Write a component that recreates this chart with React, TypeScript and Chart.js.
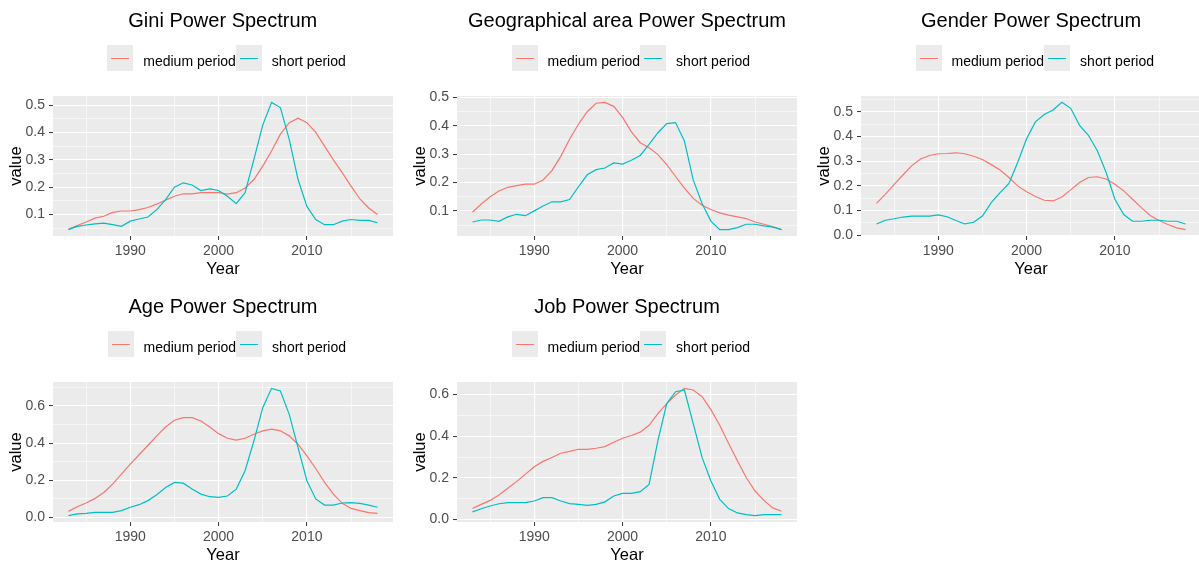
import React, { useEffect, useRef } from "react";
import { Chart, registerables } from "chart.js";

Chart.register(...registerables);

// ---------- data ----------
const years = [
  1983, 1984, 1985, 1986, 1987, 1988, 1989, 1990, 1991, 1992, 1993, 1994,
  1995, 1996, 1997, 1998, 1999, 2000, 2001, 2002, 2003, 2004, 2005, 2006,
  2007, 2008, 2009, 2010, 2011, 2012, 2013, 2014, 2015, 2016, 2017, 2018,
];

const seriesLabels = ["medium period", "short period"];

const giniMedium = [
  0.047, 0.06, 0.073, 0.087, 0.094, 0.108, 0.113, 0.113, 0.118, 0.126, 0.138, 0.153,
  0.167, 0.176, 0.176, 0.18, 0.18, 0.18, 0.175, 0.18, 0.197, 0.228, 0.277, 0.332,
  0.394, 0.436, 0.452, 0.436, 0.4, 0.35, 0.3, 0.253, 0.204, 0.157, 0.124, 0.1,
];
const giniShort = [
  0.045, 0.057, 0.062, 0.066, 0.069, 0.063, 0.057, 0.076, 0.084, 0.091, 0.118, 0.155,
  0.2, 0.216, 0.208, 0.188, 0.194, 0.188, 0.167, 0.14, 0.18, 0.302, 0.427, 0.51,
  0.491, 0.375, 0.228, 0.13, 0.082, 0.063, 0.063, 0.076, 0.082, 0.079, 0.079, 0.07,
];

const geoMedium = [
  0.095, 0.124, 0.15, 0.17, 0.183, 0.189, 0.194, 0.194, 0.209, 0.242, 0.292, 0.352,
  0.405, 0.449, 0.479, 0.482, 0.468, 0.429, 0.378, 0.34, 0.322, 0.298, 0.263, 0.221,
  0.18, 0.144, 0.12, 0.105, 0.093, 0.085, 0.079, 0.073, 0.061, 0.053, 0.045, 0.034,
];
const geoShort = [
  0.061, 0.068, 0.068, 0.063, 0.079, 0.088, 0.083, 0.1, 0.117, 0.132, 0.132, 0.14,
  0.185, 0.227, 0.245, 0.251, 0.269, 0.265, 0.278, 0.295, 0.334, 0.375, 0.407, 0.411,
  0.346, 0.209, 0.126, 0.064, 0.034, 0.034, 0.041, 0.053, 0.053, 0.047, 0.043, 0.034,
];

const genderMedium = [
  0.129, 0.166, 0.206, 0.244, 0.282, 0.309, 0.323, 0.33, 0.331, 0.334, 0.33, 0.32,
  0.307, 0.286, 0.264, 0.234, 0.2, 0.176, 0.157, 0.142, 0.139, 0.155, 0.184, 0.214,
  0.234, 0.237, 0.228, 0.207, 0.18, 0.146, 0.112, 0.08, 0.06, 0.044, 0.03, 0.023,
];
const genderShort = [
  0.046, 0.061, 0.067, 0.074, 0.078, 0.078, 0.078, 0.083, 0.075, 0.06, 0.046, 0.053,
  0.078, 0.132, 0.173, 0.21, 0.296, 0.391, 0.459, 0.489, 0.507, 0.538, 0.514, 0.445,
  0.405, 0.343, 0.255, 0.146, 0.084, 0.057, 0.057, 0.061, 0.061, 0.057, 0.057, 0.046,
];

const ageMedium = [
  0.032, 0.057, 0.077, 0.102, 0.134, 0.179, 0.233, 0.287, 0.337, 0.387, 0.439, 0.487,
  0.523, 0.537, 0.537, 0.519, 0.487, 0.451, 0.426, 0.416, 0.426, 0.448, 0.466, 0.475,
  0.466, 0.439, 0.394, 0.331, 0.263, 0.188, 0.125, 0.075, 0.048, 0.036, 0.025, 0.021,
];
const ageShort = [
  0.009, 0.018, 0.021, 0.027, 0.027, 0.027, 0.036, 0.054, 0.068, 0.09, 0.122, 0.161,
  0.188, 0.184, 0.152, 0.125, 0.111, 0.107, 0.115, 0.152, 0.251, 0.412, 0.591, 0.695,
  0.681, 0.555, 0.376, 0.197, 0.099, 0.066, 0.066, 0.077, 0.079, 0.075, 0.066, 0.054,
];

const jobMedium = [
  0.053, 0.073, 0.092, 0.118, 0.15, 0.182, 0.218, 0.253, 0.279, 0.298, 0.318, 0.327,
  0.337, 0.337, 0.342, 0.35, 0.371, 0.39, 0.403, 0.419, 0.452, 0.508, 0.556, 0.597,
  0.629, 0.621, 0.589, 0.527, 0.452, 0.366, 0.282, 0.202, 0.137, 0.092, 0.056, 0.04,
];
const jobShort = [
  0.037, 0.052, 0.065, 0.076, 0.081, 0.081, 0.081, 0.089, 0.105, 0.105, 0.089, 0.077,
  0.073, 0.068, 0.073, 0.085, 0.113, 0.126, 0.126, 0.134, 0.169, 0.379, 0.556, 0.613,
  0.621, 0.46, 0.298, 0.185, 0.097, 0.053, 0.032, 0.024, 0.019, 0.024, 0.024, 0.024,
];

const xMajorTicks = [1990, 2000, 2010];
const xMinorTicks = [1985, 1995, 2005, 2015];

const yMajorTenths = [0.1, 0.2, 0.3, 0.4, 0.5];
const yMinorTenths = [0.05, 0.15, 0.25, 0.35, 0.45];
const yMajorTenthsZero = [0.0, 0.1, 0.2, 0.3, 0.4, 0.5];
const yMinorTenthsZero = [0.05, 0.15, 0.25, 0.35, 0.45, 0.55];
const yMajorFifths = [0.0, 0.2, 0.4, 0.6];
const yMinorFifthsAge = [0.1, 0.3, 0.5, 0.7];
const yMinorFifthsJob = [0.1, 0.3, 0.5];

// ---------- style ----------
const RED = "#F8766D";
const CYAN = "#00BFC4";
const PANEL_BG = "#EBEBEB";
const FONT = "'Liberation Sans', Arial, sans-serif";

const Y_AXIS_W = 53;
const CANVAS_H = 280;
const PLOT_TOP = 96;
const PLOT_BOTTOM = 236;
const PAD_RIGHT = 4;

type PanelDef = {
  title: string;
  medium: number[];
  short: number[];
  yMajor: number[];
  yMinor: number[];
  plotLeft: number;
  plotRight: number;
  rowTop: number;
};

const panels: PanelDef[] = [
  { title: "Gini Power Spectrum", medium: giniMedium, short: giniShort, yMajor: yMajorTenths, yMinor: yMinorTenths, plotLeft: 53, plotRight: 392.5, rowTop: 0 },
  { title: "Geographical area Power Spectrum", medium: geoMedium, short: geoShort, yMajor: yMajorTenths, yMinor: yMinorTenths, plotLeft: 457, plotRight: 797, rowTop: 0 },
  { title: "Gender Power Spectrum", medium: genderMedium, short: genderShort, yMajor: yMajorTenthsZero, yMinor: yMinorTenthsZero, plotLeft: 861, plotRight: 1201, rowTop: 0 },
  { title: "Age Power Spectrum", medium: ageMedium, short: ageShort, yMajor: yMajorFifths, yMinor: yMinorFifthsAge, plotLeft: 53, plotRight: 393, rowTop: 286 },
  { title: "Job Power Spectrum", medium: jobMedium, short: jobShort, yMajor: yMajorFifths, yMinor: yMinorFifthsJob, plotLeft: 457, plotRight: 797, rowTop: 286 },
];

const isIn = (arr: number[], v: number) => arr.some((a) => Math.abs(a - v) < 1e-9);

const panelBg = {
  id: "panelBg",
  beforeDraw(chart: any) {
    const { ctx, chartArea } = chart;
    ctx.save();
    ctx.fillStyle = PANEL_BG;
    ctx.fillRect(chartArea.left, chartArea.top, chartArea.right - chartArea.left, chartArea.bottom - chartArea.top);
    ctx.restore();
  },
};

function Key({ color }: { color: string }) {
  return (
    <div style={{ position: "relative", width: 26, height: 26, background: PANEL_BG, flex: "0 0 auto" }}>
      <div style={{ position: "absolute", left: 4, right: 4, top: 12.5, height: 1.2, background: color }} />
    </div>
  );
}

function Panel({ def }: { def: PanelDef }) {
  const ref = useRef<HTMLCanvasElement>(null);
  const canvasLeft = def.plotLeft - Y_AXIS_W;
  const canvasW = Math.round(def.plotRight - canvasLeft + PAD_RIGHT);
  const center = (def.plotLeft + def.plotRight) / 2;

  useEffect(() => {
    const all = [...def.medium, ...def.short];
    const lo = Math.min(...all);
    const hi = Math.max(...all);
    const yPad = (hi - lo) * 0.05;
    const xLo = years[0];
    const xHi = years[years.length - 1];
    const xPad = (xHi - xLo) * 0.05;
    const xAll = [...xMajorTicks, ...xMinorTicks].sort((a, b) => a - b);
    const yAll = [...def.yMajor, ...def.yMinor].sort((a, b) => a - b);

    const chart = new Chart(ref.current as HTMLCanvasElement, {
      type: "line",
      data: {
        datasets: [
          {
            label: seriesLabels[0],
            data: years.map((x, i) => ({ x, y: def.medium[i] })),
            borderColor: RED,
            borderWidth: 1.2,
            pointRadius: 0,
            tension: 0,
            fill: false,
            order: 1,
          },
          {
            label: seriesLabels[1],
            data: years.map((x, i) => ({ x, y: def.short[i] })),
            borderColor: CYAN,
            borderWidth: 1.2,
            pointRadius: 0,
            tension: 0,
            fill: false,
            order: 0,
          },
        ],
      },
      options: {
        responsive: false,
        maintainAspectRatio: false,
        animation: false,
        events: [],
        layout: { padding: { top: PLOT_TOP, right: PAD_RIGHT, left: 0, bottom: 0 } },
        plugins: {
          legend: { display: false },
          title: { display: false },
          tooltip: { enabled: false },
        },
        scales: {
          x: {
            type: "linear",
            min: xLo - xPad,
            max: xHi + xPad,
            afterBuildTicks: (s: any) => {
              s.ticks = xAll.map((v) => ({ value: v }));
            },
            afterFit: (s: any) => {
              s.height = CANVAS_H - PLOT_BOTTOM;
            },
            ticks: {
              autoSkip: false,
              maxRotation: 0,
              padding: 3,
              color: "#4D4D4D",
              font: { family: FONT, size: 14 },
              callback: (v: any) => (isIn(xMajorTicks, Number(v)) ? String(v) : ""),
            },
            grid: {
              color: "#FFFFFF",
              lineWidth: (c: any) => (c.tick && isIn(xMajorTicks, c.tick.value) ? 1.1 : 0.55),
              drawTicks: true,
              tickLength: 4,
              tickWidth: 1,
              tickColor: (c: any) => (c.tick && isIn(xMajorTicks, c.tick.value) ? "#333333" : "rgba(0,0,0,0)"),
            },
            border: { display: false },
            title: {
              display: true,
              text: "Year",
              color: "#000000",
              font: { family: FONT, size: 16.5, lineHeight: 1.0 },
              padding: { top: 0, bottom: 2.75 },
            },
          },
          y: {
            type: "linear",
            min: lo - yPad,
            max: hi + yPad,
            afterBuildTicks: (s: any) => {
              s.ticks = yAll.map((v) => ({ value: v }));
            },
            afterFit: (s: any) => {
              s.width = Y_AXIS_W;
            },
            ticks: {
              autoSkip: false,
              padding: 4,
              color: "#4D4D4D",
              font: { family: FONT, size: 14 },
              callback: (v: any) => (isIn(def.yMajor, Number(v)) ? Number(v).toFixed(1) : ""),
            },
            grid: {
              color: "#FFFFFF",
              lineWidth: (c: any) => (c.tick && isIn(def.yMajor, c.tick.value) ? 1.1 : 0.55),
              drawTicks: true,
              tickLength: 4,
              tickWidth: 1,
              tickColor: (c: any) => (c.tick && isIn(def.yMajor, c.tick.value) ? "#333333" : "rgba(0,0,0,0)"),
            },
            border: { display: false },
            title: {
              display: true,
              text: "value",
              color: "#000000",
              font: { family: FONT, size: 16.5 },
              padding: { top: 7, bottom: 0 },
            },
          },
        },
      },
      plugins: [panelBg],
    } as any);
    return () => chart.destroy();
  }, [def]);

  return (
    <>
      <canvas
        ref={ref}
        width={canvasW}
        height={CANVAS_H}
        style={{ position: "absolute", left: canvasLeft, top: def.rowTop, width: canvasW, height: CANVAS_H }}
      />
      <div
        style={{
          position: "absolute",
          left: center,
          top: def.rowTop + 9.5,
          transform: "translateX(-50%)",
          font: `20px ${FONT}`,
          lineHeight: "20px",
          color: "#000",
          whiteSpace: "nowrap",
        }}
      >
        {def.title}
      </div>
      <div
        style={{
          position: "absolute",
          left: center - 115.5,
          top: def.rowTop + 45,
          height: 26,
          display: "flex",
          alignItems: "center",
          font: `14px ${FONT}`,
          color: "#000",
          whiteSpace: "nowrap",
        }}
      >
        <Key color={RED} />
        <span style={{ marginLeft: 10, position: "relative", top: 3 }}>{seriesLabels[0]}</span>
        <Key color={CYAN} />
        <span style={{ marginLeft: 10, position: "relative", top: 3 }}>{seriesLabels[1]}</span>
      </div>
    </>
  );
}

export default function App() {
  return (
    <div
      style={{
        position: "absolute",
        left: 0,
        top: 0,
        width: 1199,
        height: 562,
        overflow: "hidden",
        background: "#FFFFFF",
      }}
    >
      {panels.map((p) => (
        <Panel key={p.title} def={p} />
      ))}
    </div>
  );
}
